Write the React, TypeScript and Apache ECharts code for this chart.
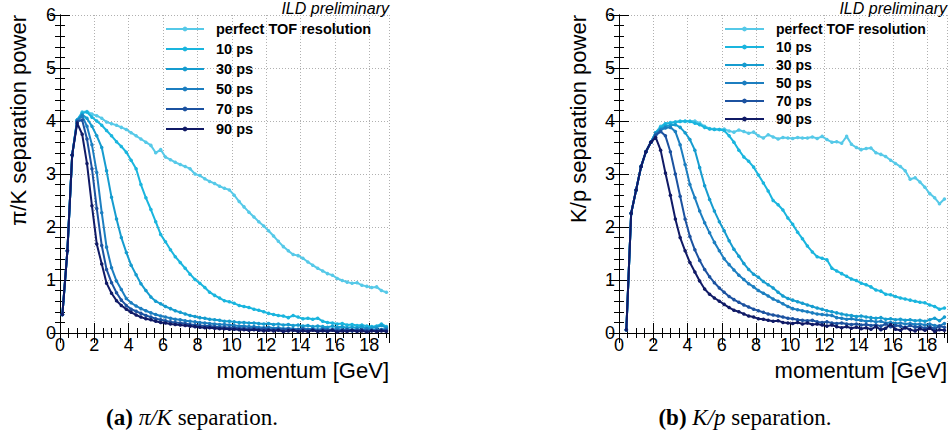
import React, { useEffect, useRef } from "react";
import * as echarts from "echarts";

const momentum = [0.14, 0.43, 0.71, 1.00, 1.29, 1.57, 1.86, 2.14, 2.43, 2.71, 3.00, 3.29, 3.57, 3.86, 4.14, 4.43, 4.71, 5.00, 5.29, 5.57, 5.86, 6.14, 6.43, 6.71, 7.00, 7.29, 7.57, 7.86, 8.14, 8.43, 8.71, 9.00, 9.29, 9.57, 9.86, 10.14, 10.43, 10.71, 11.00, 11.29, 11.57, 11.86, 12.14, 12.43, 12.71, 13.00, 13.29, 13.57, 13.86, 14.14, 14.43, 14.71, 15.00, 15.29, 15.57, 15.86, 16.14, 16.43, 16.71, 17.00, 17.29, 17.57, 17.86, 18.14, 18.43, 18.71, 19.00];

const seriesNames = ["perfect TOF resolution", "10 ps", "30 ps", "50 ps", "70 ps", "90 ps"];
const seriesColors = ["#56c9e8", "#1ab5de", "#169ccf", "#1c7ec0", "#1c52a0", "#101a66"];

const piK_perfect = [0.35,1.55,3.36,4.02,4.17,4.18,4.13,4.10,4.05,3.98, 3.95,3.92,3.88,3.84,3.78,3.72,3.66,3.60,3.54,3.40, 3.46,3.32,3.27,3.22,3.18,3.14,3.10,3.00,2.97,2.91, 2.86,2.82,2.77,2.73,2.70,2.60,2.48,2.38,2.28,2.19, 2.10,2.02,1.93,1.83,1.73,1.63,1.55,1.48,1.46,1.41, 1.34,1.28,1.22,1.17,1.12,1.09,1.03,0.99,0.96,0.94, 0.95,0.90,0.88,0.86,0.87,0.80,0.77];
const piK_10 = [0.35,1.55,3.36,4.02,4.15,4.17,4.07,4.00,3.92,3.82, 3.72,3.61,3.52,3.41,3.26,3.10,2.80,2.55,2.33,2.10, 1.86,1.72,1.57,1.44,1.33,1.22,1.11,1.01,0.94,0.86, 0.77,0.71,0.66,0.61,0.59,0.56,0.52,0.50,0.48,0.45, 0.43,0.40,0.37,0.35,0.33,0.32,0.29,0.33,0.30,0.27, 0.28,0.26,0.28,0.22,0.20,0.19,0.17,0.18,0.15,0.16, 0.14,0.15,0.13,0.12,0.13,0.17,0.12];
const piK_30 = [0.35,1.55,3.36,4.02,4.12,4.05,3.90,3.72,3.50,3.06, 2.56,2.15,1.80,1.52,1.28,1.10,0.93,0.80,0.68,0.60, 0.55,0.50,0.46,0.42,0.39,0.36,0.33,0.31,0.29,0.28, 0.26,0.25,0.24,0.22,0.22,0.21,0.20,0.20,0.19,0.19, 0.18,0.17,0.18,0.16,0.17,0.15,0.16,0.14,0.15,0.13, 0.14,0.12,0.13,0.12,0.11,0.13,0.11,0.12,0.10,0.11, 0.10,0.12,0.09,0.10,0.11,0.14,0.10];
const piK_50 = [0.35,1.55,3.36,4.00,4.10,3.90,3.55,3.03,2.27,1.62, 1.23,0.98,0.82,0.65,0.57,0.51,0.46,0.42,0.38,0.35, 0.32,0.30,0.28,0.26,0.25,0.23,0.22,0.21,0.20,0.19, 0.18,0.17,0.16,0.16,0.15,0.14,0.13,0.13,0.12,0.12, 0.11,0.10,0.11,0.09,0.10,0.08,0.09,0.08,0.07,0.09, 0.07,0.08,0.06,0.08,0.07,0.06,0.08,0.06,0.07,0.05, 0.07,0.06,0.08,0.05,0.07,0.06,0.08];
const piK_70 = [0.35,1.55,3.36,3.99,4.02,3.66,3.10,2.35,1.65,1.20, 0.95,0.76,0.62,0.52,0.45,0.41,0.37,0.33,0.30,0.27, 0.25,0.23,0.21,0.20,0.19,0.18,0.16,0.15,0.14,0.13, 0.13,0.12,0.11,0.11,0.10,0.10,0.09,0.09,0.08,0.09, 0.07,0.08,0.07,0.06,0.07,0.06,0.07,0.05,0.06,0.07, 0.05,0.06,0.04,0.06,0.05,0.06,0.04,0.05,0.06,0.04, 0.05,0.06,0.04,0.05,0.04,0.06,0.05];
const piK_90 = [0.35,1.55,3.36,3.96,3.75,3.20,2.40,1.68,1.30,0.94, 0.75,0.61,0.52,0.45,0.39,0.34,0.30,0.27,0.25,0.22, 0.20,0.19,0.17,0.16,0.15,0.14,0.13,0.12,0.11,0.10, 0.10,0.09,0.08,0.08,0.07,0.07,0.06,0.06,0.05,0.06, 0.05,0.04,0.05,0.04,0.05,0.03,0.04,0.05,0.03,0.04, 0.03,0.05,0.03,0.04,0.03,0.05,0.02,0.04,0.03,0.05, 0.03,0.04,0.02,0.04,0.03,0.04,0.03];

const Kp_perfect = [null,0.06,2.26,2.70,3.14,3.42,3.60,3.78,3.90,3.95, 3.97,3.98,4.00,3.99,4.00,4.00,3.96,3.90,3.86,3.85, 3.84,3.85,3.81,3.79,3.83,3.80,3.77,3.79,3.72,3.68, 3.74,3.70,3.66,3.69,3.68,3.67,3.69,3.68,3.68,3.70, 3.67,3.71,3.65,3.60,3.61,3.58,3.71,3.56,3.50,3.46, 3.48,3.49,3.40,3.37,3.33,3.26,3.20,3.14,3.06,2.90, 2.93,2.85,2.75,2.63,2.55,2.44,2.53];
const Kp_10 = [null,0.06,2.26,2.70,3.14,3.42,3.60,3.78,3.88,3.95, 3.96,3.98,3.99,4.00,3.99,3.96,3.93,3.88,3.85,3.84, 3.84,3.82,3.72,3.60,3.45,3.32,3.24,3.13,2.98,2.83, 2.68,2.50,2.42,2.32,2.17,2.05,1.90,1.78,1.64,1.53, 1.44,1.41,1.38,1.22,1.17,1.12,1.07,1.02,0.99,0.94, 0.91,0.87,0.81,0.79,0.73,0.72,0.69,0.66,0.64,0.62, 0.60,0.58,0.57,0.53,0.50,0.45,0.47];
const Kp_30 = [null,0.06,2.26,2.70,3.14,3.42,3.60,3.78,3.85,3.90, 3.92,3.93,3.88,3.78,3.65,3.45,3.12,2.78,2.52,2.30, 2.10,1.93,1.74,1.58,1.45,1.31,1.20,1.11,1.05,0.97, 0.91,0.85,0.77,0.70,0.65,0.62,0.59,0.56,0.53,0.50, 0.47,0.45,0.42,0.40,0.38,0.36,0.34,0.33,0.31,0.32, 0.30,0.29,0.28,0.29,0.26,0.27,0.25,0.26,0.24,0.25, 0.23,0.24,0.22,0.25,0.28,0.23,0.30];
const Kp_50 = [null,0.06,2.26,2.70,3.14,3.42,3.60,3.76,3.83,3.87, 3.88,3.80,3.55,3.18,2.80,2.55,2.30,2.08,1.89,1.71, 1.55,1.40,1.29,1.19,1.09,1.01,0.93,0.87,0.80,0.75, 0.70,0.64,0.60,0.55,0.50,0.46,0.44,0.42,0.40,0.38, 0.36,0.35,0.34,0.33,0.29,0.28,0.26,0.27,0.25,0.24, 0.22,0.23,0.21,0.22,0.19,0.20,0.18,0.19,0.17,0.18, 0.16,0.17,0.15,0.17,0.14,0.13,0.18];
const Kp_70 = [null,0.06,2.26,2.70,3.14,3.42,3.60,3.73,3.80,3.72, 3.42,3.00,2.58,2.15,1.82,1.57,1.37,1.20,1.06,0.95, 0.85,0.77,0.69,0.63,0.58,0.53,0.49,0.45,0.42,0.39, 0.36,0.34,0.32,0.30,0.28,0.27,0.25,0.24,0.23,0.24, 0.21,0.20,0.21,0.19,0.18,0.19,0.17,0.16,0.17,0.15, 0.16,0.14,0.15,0.13,0.17,0.12,0.14,0.13,0.10,0.14, 0.11,0.12,0.09,0.12,0.08,0.13,0.11];
const Kp_90 = [null,0.06,2.26,2.70,3.14,3.42,3.60,3.69,3.45,3.02, 2.60,2.15,1.80,1.55,1.33,1.15,0.98,0.83,0.73,0.66, 0.60,0.54,0.48,0.43,0.40,0.36,0.32,0.30,0.27,0.26, 0.24,0.22,0.23,0.20,0.19,0.18,0.20,0.17,0.19,0.16, 0.17,0.15,0.13,0.15,0.12,0.10,0.12,0.09,0.11,0.08, 0.10,0.07,0.12,0.06,0.09,0.16,0.07,0.05,0.10,0.06, 0.04,0.08,0.05,0.09,0.03,0.06,0.05];

const piKSeries = [piK_perfect, piK_10, piK_30, piK_50, piK_70, piK_90];
const KpSeries = [Kp_perfect, Kp_10, Kp_30, Kp_50, Kp_70, Kp_90];

const xTicks = { min: 0, max: 19.15, interval: 2 };
const yTicks = { min: 0, max: 6, interval: 1 };

const FONT = "'Liberation Sans', Arial, Helvetica, sans-serif";
const SERIF = "'Liberation Serif', 'Times New Roman', serif";

function xAxisPair(gridIndex: number) {
  const common = {
    type: "value" as const,
    gridIndex,
    min: xTicks.min,
    max: xTicks.max,
    interval: xTicks.interval,
    axisLine: { show: true, lineStyle: { color: "#000", width: 1 } },
    axisTick: { show: true, inside: true, length: 10, lineStyle: { color: "#000" } },
    minorTick: { show: true, splitNumber: 4, length: 5, lineStyle: { color: "#000" } },
  };
  return [
    {
      ...common,
      position: "bottom",
      name: "momentum [GeV]",
      nameLocation: "end",
      nameGap: 0,
      nameTextStyle: { fontSize: 22, color: "#000", align: "right", verticalAlign: "top", padding: [26, 0, 0, 0], fontFamily: FONT },
      axisLabel: { show: true, fontSize: 18, color: "#000", margin: 3, showMaxLabel: false, fontFamily: FONT },
      splitLine: { show: true, lineStyle: { color: "#b0b0b0", type: [1, 2], width: 1 } },
    },
    {
      ...common,
      position: "top",
      axisLabel: { show: false },
      splitLine: { show: false },
    },
  ];
}

function yAxisPair(gridIndex: number) {
  const common = {
    type: "value" as const,
    gridIndex,
    min: yTicks.min,
    max: yTicks.max,
    interval: yTicks.interval,
    axisLine: { show: true, lineStyle: { color: "#000", width: 1 } },
    axisTick: { show: true, inside: true, length: 10, lineStyle: { color: "#000" } },
    minorTick: { show: true, splitNumber: 5, length: 5, lineStyle: { color: "#000" } },
  };
  return [
    {
      ...common,
      position: "left",
      axisLabel: { show: true, fontSize: 18, color: "#000", margin: 4, fontFamily: FONT },
      splitLine: { show: true, lineStyle: { color: "#b0b0b0", type: [1, 2], width: 1 } },
    },
    {
      ...common,
      position: "right",
      axisLabel: { show: false },
      splitLine: { show: false },
    },
  ];
}

function buildSeries(values: (number | null)[][], axisIndex: number) {
  return values.map((vals, k) => ({
    type: "line",
    name: seriesNames[k],
    xAxisIndex: axisIndex,
    yAxisIndex: axisIndex,
    data: momentum
      .map((p, i) => (vals[i] == null ? null : [p, vals[i]]))
      .filter((d) => d !== null),
    symbol: "circle",
    symbolSize: 3.5,
    showSymbol: true,
    lineStyle: { width: 2, color: seriesColors[k] },
    itemStyle: { color: seriesColors[k] },
    emphasis: { disabled: true },
    z: 2 + k,
  }));
}

export default function App() {
  const ref = useRef<HTMLDivElement>(null);
  useEffect(() => {
    document.body.style.margin = "0";
    if (!ref.current) return;
    const chart = echarts.init(ref.current, null, { renderer: "svg" });
    const legendCommon = {
      orient: "vertical" as const,
      padding: 0,
      itemHeight: 6,
      data: seriesNames,
      selectedMode: false,
      textStyle: { fontSize: 14.5, fontWeight: "bold", color: "#000", fontFamily: FONT, lineHeight: 16, padding: [0, 0, 0, 7] },
    };
    chart.setOption({
      animation: false,
      textStyle: { fontFamily: FONT },
      grid: [
        { left: 60, top: 15, width: 329, height: 318 },
        { left: 619, top: 15, width: 328, height: 318 },
      ],
      xAxis: [...xAxisPair(0), ...xAxisPair(1)],
      yAxis: [...yAxisPair(0), ...yAxisPair(1)],
      legend: [
        { ...legendCommon, left: 165, top: 21, itemWidth: 38, itemGap: 4 },
        { ...legendCommon, left: 724, top: 21, itemWidth: 39, itemGap: 2, textStyle: { ...legendCommon.textStyle, fontSize: 14 } },
      ],
      series: [...buildSeries(piKSeries, 0), ...buildSeries(KpSeries, 2)],
      graphic: [
        {
          type: "text", x: 389, y: 8,
          style: { text: "ILD preliminary", fontSize: 16, fontStyle: "italic", fontFamily: FONT, fill: "#000", align: "right", verticalAlign: "middle" },
        },
        {
          type: "text", x: 947, y: 8,
          style: { text: "ILD preliminary", fontSize: 16, fontStyle: "italic", fontFamily: FONT, fill: "#000", align: "right", verticalAlign: "middle" },
        },
        {
          type: "text", x: 18, y: 15, rotation: Math.PI / 2,
          style: { text: "π/K separation power", fontSize: 22, fontFamily: FONT, fill: "#000", align: "right", verticalAlign: "middle" },
        },
        {
          type: "text", x: 578, y: 15, rotation: Math.PI / 2,
          style: { text: "K/p separation power", fontSize: 22, fontFamily: FONT, fill: "#000", align: "right", verticalAlign: "middle" },
        },
        {
          type: "text", x: 192, y: 417,
          style: {
            text: "{b|(a)} {i|π/K} separation.",
            fontSize: 23, fontFamily: SERIF, fill: "#000", align: "center", verticalAlign: "middle",
            rich: {
              b: { fontWeight: "bold", fontSize: 23, fontFamily: SERIF },
              i: { fontStyle: "italic", fontSize: 23, fontFamily: SERIF },
            },
          },
        },
        {
          type: "text", x: 745, y: 417,
          style: {
            text: "{b|(b)} {i|K/p} separation.",
            fontSize: 23, fontFamily: SERIF, fill: "#000", align: "center", verticalAlign: "middle",
            rich: {
              b: { fontWeight: "bold", fontSize: 23, fontFamily: SERIF },
              i: { fontStyle: "italic", fontSize: 23, fontFamily: SERIF },
            },
          },
        },
      ],
    });
    return () => chart.dispose();
  }, []);
  return <div ref={ref} style={{ width: 951, height: 434 }} />;
}
